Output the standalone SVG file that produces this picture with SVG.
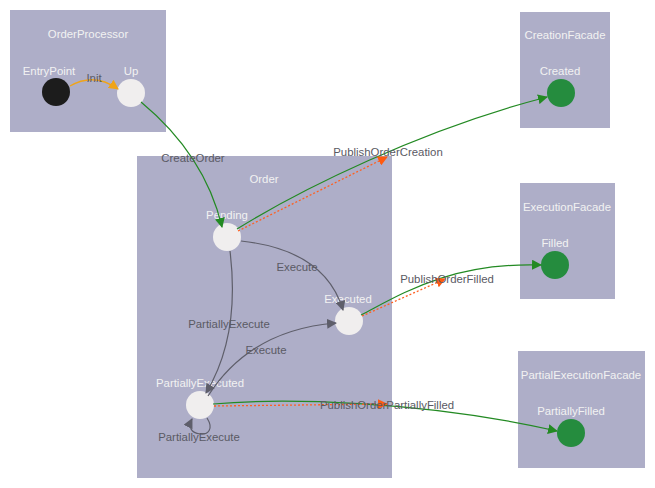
<svg xmlns="http://www.w3.org/2000/svg" width="655" height="488" viewBox="0 0 655 488">
<style>
.box{fill:#aeaec8}
.t{font-family:"Liberation Sans",Arial,sans-serif;font-size:11.4px;text-anchor:middle}
.nl{fill:#f2f2f2}
.el{fill:#5a5a64}
.st{fill:#f0eeee}
.fin{fill:#258c3e}
.g{fill:none;stroke:#238a23;stroke-width:1.2}
.o{fill:none;stroke:#ff6020;stroke-width:1.3;stroke-dasharray:2 2}
.y{fill:none;stroke:#f0a418;stroke-width:1.4}
.k{fill:none;stroke:#5e5e6a;stroke-width:1.2}
</style>
<defs>
<marker id="ag" viewBox="0 0 10 10" refX="9" refY="5" markerWidth="10" markerHeight="10" markerUnits="userSpaceOnUse" orient="auto"><path d="M0,0 L10,5 L0,10 z" fill="#238a23"/></marker>
<marker id="ao" viewBox="0 0 10 10" refX="9" refY="5" markerWidth="10" markerHeight="10" markerUnits="userSpaceOnUse" orient="auto"><path d="M0,0 L10,5 L0,10 z" fill="#ff5a10"/></marker>
<marker id="ay" viewBox="0 0 10 10" refX="9" refY="5" markerWidth="10" markerHeight="10" markerUnits="userSpaceOnUse" orient="auto"><path d="M0,0 L10,5 L0,10 z" fill="#f0a418"/></marker>
<marker id="ak" viewBox="0 0 10 10" refX="9" refY="5" markerWidth="10" markerHeight="10" markerUnits="userSpaceOnUse" orient="auto"><path d="M0,0 L10,5 L0,10 z" fill="#5e5e6a"/></marker>
</defs>

<g id="OrderProcessor">
<rect class="box" x="10" y="10" width="156" height="122"/>
<text class="t nl" x="88" y="38">OrderProcessor</text>
</g>
<g id="EntryPoint">
<circle cx="56" cy="92" r="14" fill="#1c1c1c"/>
<text class="t nl" x="49" y="75">EntryPoint</text>
</g>
<g id="Up">
<circle class="st" cx="131" cy="93" r="14"/>
<text class="t nl" x="131" y="75">Up</text>
</g>

<g id="Order">
<rect class="box" x="137" y="156" width="255" height="322"/>
<text class="t nl" x="264" y="183">Order</text>
</g>
<g id="Pending">
<circle class="st" cx="227" cy="237" r="14"/>
<text class="t nl" x="227" y="219">Pending</text>
</g>
<g id="Executed">
<circle class="st" cx="349" cy="321" r="14"/>
<text class="t nl" x="348" y="303">Executed</text>
</g>
<g id="PartiallyExecuted">
<circle class="st" cx="200" cy="405" r="14"/>
<text class="t nl" x="200" y="387">PartiallyExecuted</text>
</g>

<g id="CreationFacade">
<rect class="box" x="520" y="12" width="90" height="116"/>
<text class="t nl" x="565" y="39">CreationFacade</text>
</g>
<g id="Created">
<circle class="fin" cx="561" cy="93" r="14"/>
<text class="t nl" x="560" y="75">Created</text>
</g>
<g id="ExecutionFacade">
<rect class="box" x="520" y="183" width="95" height="116"/>
<text class="t nl" x="567" y="211">ExecutionFacade</text>
</g>
<g id="Filled">
<circle class="fin" cx="555" cy="265" r="14"/>
<text class="t nl" x="555" y="247">Filled</text>
</g>
<g id="PartialExecutionFacade">
<rect class="box" x="518" y="351" width="127" height="117"/>
<text class="t nl" x="581" y="379">PartialExecutionFacade</text>
</g>
<g id="PartiallyFilled">
<circle class="fin" cx="571" cy="433" r="14"/>
<text class="t nl" x="571" y="415">PartiallyFilled</text>
</g>

<g id="connectors">
<path class="y" d="M70,86 Q94,72 118,89" marker-end="url(#ay)"/>
<path class="g" d="M141,102 Q205,155 222,227" marker-end="url(#ag)"/>
<path class="g" d="M237,229 C300,190 420,130 547,97" marker-end="url(#ag)"/>
<path class="o" d="M238,231 L387,157" marker-end="url(#ao)"/>
<path class="k" d="M241,241 Q325,250 343,310" marker-end="url(#ak)"/>
<path class="k" d="M230,251 C236,300 232,350 206,393" marker-end="url(#ak)"/>
<path class="k" d="M208,396 Q250,330 336,323" marker-end="url(#ak)"/>
<path class="k" d="M207,418 C214,429 208,435 200,434 C191,433 188,427 192,419" marker-end="url(#ak)"/>
<path class="g" d="M361,315 C400,295 450,262 541,265" marker-end="url(#ag)"/>
<path class="o" d="M362,316 L445,279" marker-end="url(#ao)"/>
<path class="g" d="M213,404 C280,398 420,400 557,431" marker-end="url(#ag)"/>
<path class="o" d="M214,406 L387,404" marker-end="url(#ao)"/>
</g>
<g id="edge-labels">
<text class="t el" x="94" y="82">Init</text>
<text class="t el" x="193" y="162">CreateOrder</text>
<text class="t el" x="388" y="156">PublishOrderCreation</text>
<text class="t el" x="297" y="271">Execute</text>
<text class="t el" x="229" y="328">PartiallyExecute</text>
<text class="t el" x="266" y="354">Execute</text>
<text class="t el" x="199" y="441">PartiallyExecute</text>
<text class="t el" x="447" y="283">PublishOrderFilled</text>
<text class="t el" x="387" y="409">PublishOrderPartiallyFilled</text>
</g>
</svg>
